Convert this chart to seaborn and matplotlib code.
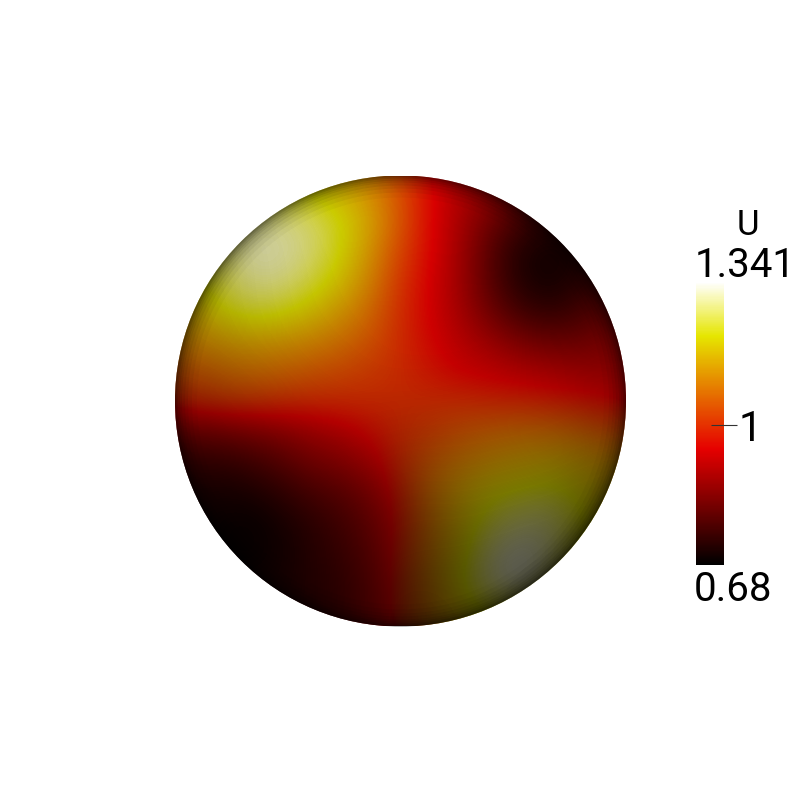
import matplotlib
matplotlib.use('Agg')
import matplotlib.pyplot as plt
from matplotlib.colors import LinearSegmentedColormap
from matplotlib.patches import Circle, Wedge
import numpy as np
import pandas as pd
import seaborn as sns

# U on the sphere (rows top to bottom, columns left to right)
u_rows = [
    [1.20, 1.22, 1.24, 1.22, 1.20, 1.17, 1.12, 1.04, 0.95, 0.89, 0.85, 0.82, 0.79, 0.78, 0.78],
    [1.22, 1.26, 1.29, 1.29, 1.27, 1.22, 1.15, 1.05, 0.95, 0.88, 0.81, 0.75, 0.73, 0.74, 0.76],
    [1.22, 1.27, 1.31, 1.31, 1.28, 1.22, 1.13, 1.03, 0.95, 0.87, 0.78, 0.71, 0.69, 0.71, 0.75],
    [1.20, 1.25, 1.29, 1.29, 1.25, 1.19, 1.11, 1.01, 0.94, 0.87, 0.78, 0.71, 0.69, 0.72, 0.76],
    [1.16, 1.21, 1.24, 1.23, 1.19, 1.14, 1.08, 1.00, 0.94, 0.88, 0.81, 0.75, 0.73, 0.76, 0.80],
    [1.12, 1.14, 1.15, 1.14, 1.12, 1.09, 1.05, 1.00, 0.95, 0.91, 0.87, 0.83, 0.81, 0.82, 0.85],
    [1.06, 1.08, 1.09, 1.08, 1.06, 1.04, 1.02, 1.00, 0.97, 0.94, 0.93, 0.91, 0.90, 0.89, 0.89],
    [1.00, 1.02, 1.02, 1.01, 1.00, 1.00, 1.00, 1.00, 1.00, 1.00, 0.99, 0.99, 0.98, 0.97, 0.95],
    [0.85, 0.86, 0.87, 0.88, 0.90, 0.92, 0.96, 1.00, 1.02, 1.05, 1.07, 1.08, 1.08, 1.07, 1.04],
    [0.76, 0.76, 0.78, 0.81, 0.85, 0.87, 0.92, 1.00, 1.06, 1.10, 1.13, 1.15, 1.16, 1.15, 1.13],
    [0.72, 0.71, 0.72, 0.75, 0.79, 0.82, 0.88, 0.99, 1.09, 1.15, 1.20, 1.22, 1.23, 1.20, 1.16],
    [0.70, 0.69, 0.68, 0.71, 0.75, 0.79, 0.86, 0.98, 1.09, 1.17, 1.24, 1.28, 1.28, 1.22, 1.18],
    [0.71, 0.69, 0.68, 0.70, 0.74, 0.78, 0.85, 0.99, 1.10, 1.19, 1.29, 1.33, 1.30, 1.22, 1.18],
    [0.72, 0.71, 0.70, 0.71, 0.74, 0.77, 0.85, 1.00, 1.11, 1.21, 1.30, 1.34, 1.27, 1.20, 1.16],
    [0.74, 0.73, 0.72, 0.72, 0.74, 0.77, 0.85, 1.00, 1.10, 1.18, 1.22, 1.22, 1.20, 1.16, 1.14],
]

# how much the lighting dims the surface, coarse grid
shade_rows = [
    [0.22, 0.17, 0.13, 0.10, 0.06, 0.05, 0.08, 0.12, 0.18],
    [0.25, 0.20, 0.15, 0.12, 0.08, 0.06, 0.08, 0.12, 0.18],
    [0.25, 0.20, 0.15, 0.13, 0.10, 0.08, 0.10, 0.14, 0.20],
    [0.27, 0.22, 0.17, 0.15, 0.12, 0.12, 0.14, 0.17, 0.24],
    [0.38, 0.30, 0.22, 0.18, 0.18, 0.20, 0.22, 0.25, 0.32],
    [0.42, 0.34, 0.27, 0.24, 0.33, 0.33, 0.35, 0.38, 0.46],
    [0.44, 0.38, 0.33, 0.36, 0.50, 0.46, 0.50, 0.54, 0.60],
    [0.47, 0.42, 0.42, 0.46, 0.58, 0.60, 0.63, 0.66, 0.68],
    [0.50, 0.50, 0.50, 0.54, 0.70, 0.64, 0.64, 0.68, 0.70],
]

u_min = 0.68
u_max = 1.341
# the bar's tick sits a bit above where 0.68..1.341 would put it
scale_min = 0.667
cbar_ticks = [1]
title = 'U'

# dark rim of the sphere: (depth in pixels, alpha)
limb_depth = [1.5, 3, 5, 7, 10, 13, 17, 22]
limb_alpha = [0.12, 0.11, 0.09, 0.08, 0.07, 0.06, 0.05, 0.03]

W, H = 801, 802
cmap = LinearSegmentedColormap.from_list('blackbody', [
    (0.0, (0, 0, 0)),
    (0.41, (230 / 255, 0, 0)),
    (0.81, (230 / 255, 230 / 255, 0)),
    (1.0, (1, 1, 1)),
])
shade_cmap = LinearSegmentedColormap.from_list('shade', [(0, 0, 0, 0), (0, 0, 0, 1)])


def px_axes(fig, left, top, right, bottom):
    return fig.add_axes([left / W, 1 - bottom / H, (right - left) / W, (bottom - top) / H])


def smooth_image(ax, rows, n, **kwargs):
    # repeat the edge cells outside the circle, otherwise the image edge fades
    rows = np.array(rows)
    cell = n / len(rows)
    return ax.imshow(np.pad(rows, 2, mode='edge'), extent=(-2 * cell, n + 2 * cell, n + 2 * cell, -2 * cell),
                     interpolation='bicubic', aspect='auto', **kwargs)


plt.rcParams['font.family'] = ['Roboto', 'DejaVu Sans']

fig = plt.figure(figsize=(W / 100, H / 100), dpi=100)
ax = px_axes(fig, 175, 175.5, 626, 626.5)
cax = px_axes(fig, 696, 282, 724, 565)

df = pd.DataFrame(u_rows)
sns.heatmap(df, ax=ax, cmap=cmap, vmin=scale_min, vmax=u_max, cbar=True, cbar_ax=cax,
            cbar_kws={'ticks': cbar_ticks}, xticklabels=False, yticklabels=False)

n = len(u_rows)
center = (n / 2, n / 2)
radius = n / 2
px = n / 451  # data units per pixel

smooth = smooth_image(ax, u_rows, n, cmap=cmap, vmin=scale_min, vmax=u_max, zorder=2)
shade = smooth_image(ax, shade_rows, n, cmap=shade_cmap, vmin=0, vmax=1, zorder=3)
ax.set_xlim(0, n)
ax.set_ylim(n, 0)

clip = Circle(center, radius, transform=ax.transData)
smooth.set_clip_path(clip)
shade.set_clip_path(clip)
# the unshaded cells must not show in the antialiased fringe of the circle
ax.collections[0].set_clip_path(Circle(center, radius - 3 * px, transform=ax.transData))

for depth, alpha in zip(limb_depth, limb_alpha):
    ax.add_patch(Wedge(center, radius, 0, 360, width=depth * px, facecolor='black',
                       edgecolor='none', alpha=alpha, zorder=4))
ax.axis('off')

# colour bar
for spine in cax.spines.values():
    spine.set_visible(False)
cax.tick_params(axis='y', direction='inout', length=18.7, width=0.8, color='#333333',
                labelsize=30, pad=1, labelcolor='black')

fig.text(748 / W, 1 - 235 / H, title, fontsize=25, ha='center', va='baseline')
fig.text(745 / W, 1 - 277 / H, f'{u_max}', fontsize=29, ha='center', va='baseline')
fig.text(733 / W, 1 - 601 / H, f'{u_min}', fontsize=29, ha='center', va='baseline')

fig.savefig('out.png', dpi=100, facecolor='white')
